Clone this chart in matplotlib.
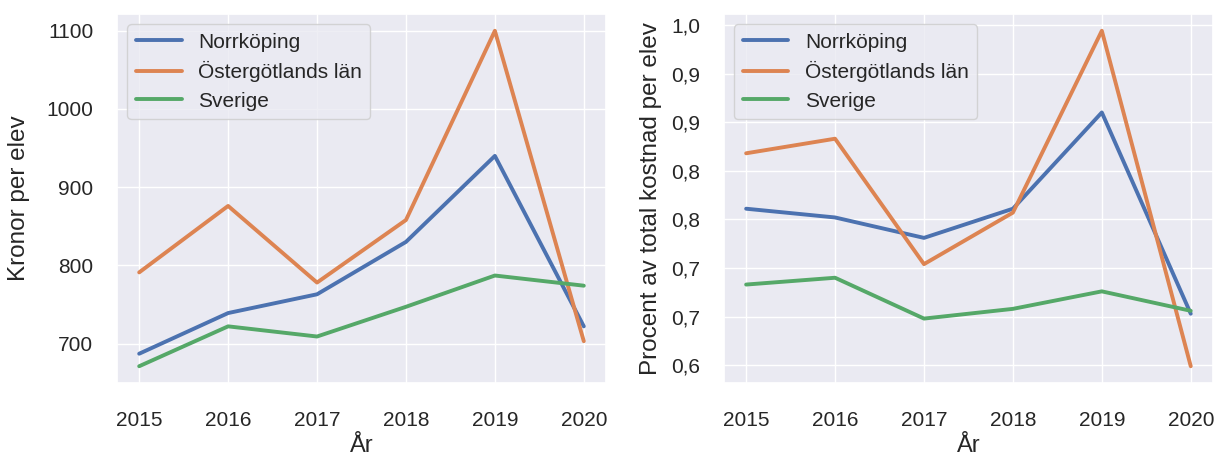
import matplotlib
matplotlib.use('Agg')
import matplotlib.pyplot as plt
import seaborn as sns
from matplotlib.ticker import FuncFormatter, MultipleLocator

sns.set_theme(style='darkgrid')
plt.rcParams['font.family'] = ['Liberation Sans', 'DejaVu Sans']

years = [2015, 2016, 2017, 2018, 2019, 2020]
labels = ['Norrköping', 'Östergötlands län', 'Sverige']

kronor_norrkoping = [687, 739, 763, 830, 940, 722]
kronor_ostergotland = [791, 876, 778, 858, 1100, 703]
kronor_sverige = [671, 722, 709, 747, 787, 774]

procent_norrkoping = [0.761, 0.752, 0.731, 0.761, 0.860, 0.653]
procent_ostergotland = [0.818, 0.833, 0.704, 0.757, 0.944, 0.599]
procent_sverige = [0.683, 0.690, 0.648, 0.658, 0.676, 0.656]

colors = ['#4C72B0', '#DD8452', '#55A868']

fig, (ax1, ax2) = plt.subplots(1, 2, figsize=(12.17, 4.61), dpi=100)
fig.subplots_adjust(left=0.0961, right=0.9967, top=0.9696, bottom=0.1692, wspace=0.241)

for ax, series in [(ax1, [kronor_norrkoping, kronor_ostergotland, kronor_sverige]),
                   (ax2, [procent_norrkoping, procent_ostergotland, procent_sverige])]:
    for vals, lab, c in zip(series, labels, colors):
        ax.plot(years, vals, color=c, linewidth=2.8, label=lab)
    ax.set_xlabel('År', fontsize=17, labelpad=4)
    ax.tick_params(axis='x', labelsize=15, pad=14)
    ax.tick_params(axis='y', labelsize=15, pad=11)
    ax.legend(loc='upper left', fontsize=15, handlelength=2.2, labelspacing=0.45)

ax1.set_ylabel('Kronor per elev', fontsize=17.5, labelpad=12)
ax2.set_ylabel('Procent av total kostnad per elev', fontsize=17.5, labelpad=7)

ax1.yaxis.set_major_locator(MultipleLocator(100))
ax2.yaxis.set_major_locator(MultipleLocator(0.05))
ax2.yaxis.set_major_formatter(FuncFormatter(lambda v, p: f'{v + 1e-9:.1f}'.replace('.', ',')))

plt.savefig('out.png', dpi=100)
